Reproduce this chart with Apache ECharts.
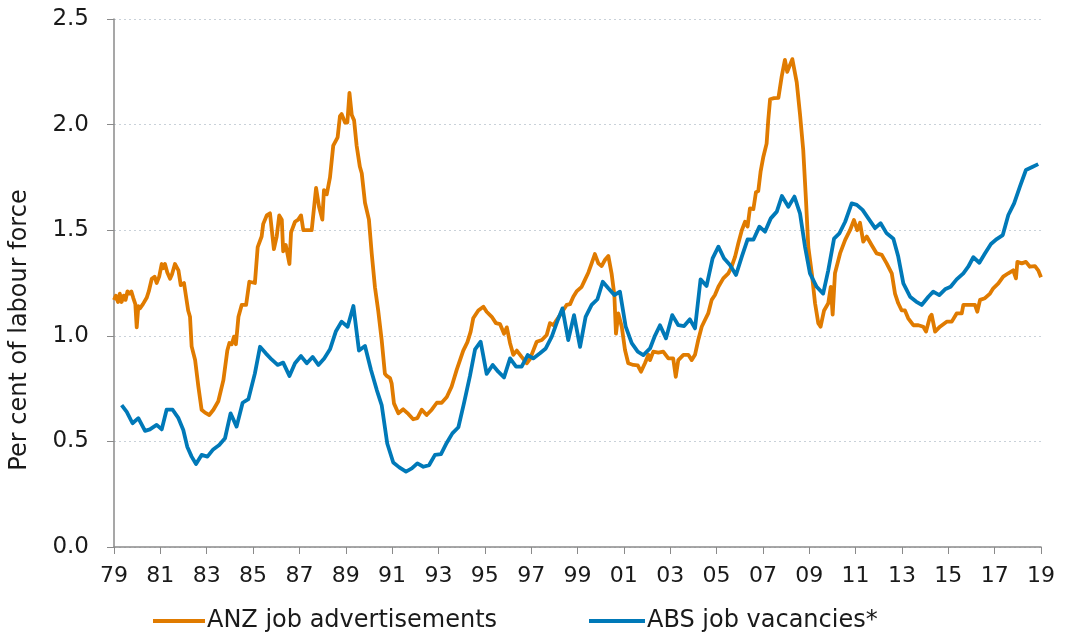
<!DOCTYPE html>
<html>
<head>
<meta charset="utf-8">
<script src="https://cdn.jsdelivr.net/npm/echarts@6/dist/echarts.min.js"></script>
<style>html,body{margin:0;padding:0;background:#fff}#c{width:1073px;height:637px}</style>
</head>
<body>
<div id="c"></div>
<script>
const yTicks = ['0.0','0.5','1.0','1.5','2.0','2.5'];
const xTickYears = [1979,1981,1983,1985,1987,1989,1991,1993,1995,1997,1999,2001,2003,2005,2007,2009,2011,2013,2015,2017,2019];
const yAxisTitle = 'Per cent of labour force';

const anzYears = [1979.0,1979.08,1979.17,1979.25,1979.33,1979.42,1979.5,1979.58,1979.67,1979.75,1979.83,1979.92,1979.98,1980.05,1980.12,1980.25,1980.41,1980.5,1980.63,1980.75,1980.84,1980.95,1981.06,1981.12,1981.2,1981.3,1981.42,1981.5,1981.63,1981.78,1981.88,1982.02,1982.2,1982.28,1982.35,1982.5,1982.64,1982.78,1982.93,1983.11,1983.29,1983.5,1983.72,1983.89,1983.98,1984.08,1984.18,1984.26,1984.37,1984.51,1984.7,1984.84,1985.08,1985.2,1985.37,1985.44,1985.59,1985.73,1985.9,1986.02,1986.13,1986.24,1986.3,1986.41,1986.57,1986.64,1986.81,1986.95,1987.07,1987.17,1987.53,1987.72,1987.85,1987.99,1988.06,1988.18,1988.32,1988.46,1988.65,1988.75,1988.82,1988.97,1989.07,1989.16,1989.26,1989.36,1989.47,1989.61,1989.69,1989.83,1990.0,1990.12,1990.26,1990.4,1990.55,1990.69,1990.77,1990.91,1990.98,1991.08,1991.27,1991.48,1991.7,1991.91,1992.09,1992.28,1992.49,1992.71,1992.93,1993.14,1993.36,1993.57,1993.79,1993.93,1994.07,1994.25,1994.39,1994.5,1994.72,1994.94,1995.08,1995.3,1995.48,1995.66,1995.83,1995.95,1996.09,1996.23,1996.38,1996.59,1996.81,1996.95,1997.09,1997.24,1997.46,1997.67,1997.81,1997.96,1998.1,1998.32,1998.53,1998.68,1998.82,1998.96,1999.18,1999.32,1999.47,1999.61,1999.75,1999.9,2000.04,2000.19,2000.33,2000.47,2000.59,2000.66,2000.76,2000.91,2001.05,2001.19,2001.41,2001.6,2001.74,2001.91,2002.06,2002.13,2002.27,2002.49,2002.7,2002.92,2003.13,2003.24,2003.35,2003.57,2003.78,2003.93,2004.07,2004.21,2004.36,2004.5,2004.64,2004.79,2004.93,2005.08,2005.29,2005.51,2005.65,2005.8,2005.94,2006.09,2006.23,2006.34,2006.44,2006.59,2006.7,2006.8,2006.9,2007.02,2007.16,2007.23,2007.31,2007.48,2007.67,2007.81,2007.95,2008.05,2008.1,2008.27,2008.46,2008.6,2008.74,2008.86,2008.96,2009.11,2009.25,2009.39,2009.49,2009.64,2009.82,2009.93,2010.01,2010.11,2010.33,2010.55,2010.76,2010.93,2011.07,2011.19,2011.33,2011.48,2011.69,2011.91,2012.13,2012.34,2012.56,2012.7,2012.84,2012.99,2013.13,2013.27,2013.49,2013.71,2013.92,2014.04,2014.21,2014.28,2014.43,2014.64,2014.93,2015.15,2015.36,2015.58,2015.65,2015.94,2016.15,2016.25,2016.37,2016.58,2016.8,2016.94,2017.16,2017.37,2017.59,2017.8,2017.92,2017.98,2018.17,2018.35,2018.52,2018.74,2018.88,2019.0];
const anzValues = [1.17,1.19,1.16,1.20,1.16,1.19,1.17,1.21,1.20,1.21,1.18,1.15,1.04,1.14,1.13,1.15,1.18,1.21,1.27,1.28,1.25,1.28,1.34,1.32,1.34,1.30,1.27,1.29,1.34,1.31,1.24,1.25,1.12,1.09,0.95,0.885,0.76,0.65,0.636,0.625,0.65,0.69,0.79,0.93,0.966,0.96,0.996,0.96,1.09,1.146,1.146,1.256,1.25,1.42,1.47,1.53,1.57,1.58,1.41,1.47,1.57,1.55,1.40,1.43,1.34,1.49,1.54,1.55,1.57,1.50,1.50,1.70,1.61,1.55,1.69,1.67,1.75,1.90,1.94,2.04,2.05,2.01,2.01,2.15,2.045,2.02,1.90,1.80,1.77,1.63,1.55,1.39,1.23,1.12,0.98,0.82,0.81,0.80,0.775,0.68,0.633,0.652,0.63,0.605,0.61,0.65,0.625,0.65,0.683,0.683,0.71,0.76,0.84,0.885,0.93,0.97,1.02,1.083,1.12,1.138,1.114,1.09,1.06,1.055,1.01,1.04,0.965,0.91,0.93,0.90,0.87,0.89,0.93,0.972,0.98,1.004,1.06,1.05,1.075,1.11,1.146,1.15,1.185,1.21,1.232,1.265,1.30,1.343,1.387,1.343,1.33,1.36,1.378,1.296,1.193,1.01,1.106,1.043,0.933,0.87,0.862,0.86,0.83,0.87,0.91,0.885,0.925,0.92,0.925,0.893,0.893,0.806,0.885,0.91,0.91,0.885,0.91,0.98,1.043,1.075,1.106,1.17,1.193,1.232,1.272,1.296,1.327,1.375,1.438,1.50,1.54,1.517,1.603,1.60,1.68,1.685,1.777,1.848,1.91,2.02,2.12,2.125,2.127,2.227,2.306,2.25,2.243,2.31,2.20,2.05,1.88,1.64,1.42,1.296,1.154,1.06,1.043,1.12,1.154,1.232,1.10,1.296,1.39,1.454,1.50,1.548,1.50,1.535,1.446,1.47,1.43,1.39,1.383,1.343,1.296,1.20,1.154,1.12,1.12,1.083,1.05,1.05,1.043,1.02,1.09,1.10,1.02,1.043,1.067,1.067,1.106,1.106,1.146,1.146,1.146,1.114,1.17,1.178,1.20,1.225,1.248,1.28,1.296,1.31,1.272,1.35,1.343,1.35,1.327,1.33,1.31,1.277];

const absYears = [1979.33,1979.55,1979.8,1980.05,1980.34,1980.55,1980.84,1981.06,1981.27,1981.53,1981.78,1981.99,1982.16,1982.35,1982.54,1982.78,1983.03,1983.28,1983.54,1983.79,1984.03,1984.29,1984.55,1984.8,1985.08,1985.3,1985.55,1985.8,1986.06,1986.3,1986.57,1986.81,1987.07,1987.32,1987.57,1987.82,1988.07,1988.32,1988.57,1988.82,1989.08,1989.33,1989.57,1989.83,1990.09,1990.34,1990.55,1990.79,1991.05,1991.31,1991.6,1991.85,1992.09,1992.35,1992.6,1992.85,1993.11,1993.36,1993.6,1993.86,1994.1,1994.36,1994.58,1994.82,1995.08,1995.34,1995.58,1995.83,1996.09,1996.35,1996.59,1996.85,1997.09,1997.38,1997.63,1997.89,1998.15,1998.35,1998.6,1998.85,1999.11,1999.35,1999.61,1999.86,2000.09,2000.33,2000.59,2000.83,2001.08,2001.34,2001.6,2001.84,2002.13,2002.34,2002.56,2002.82,2003.09,2003.35,2003.6,2003.85,2004.07,2004.31,2004.57,2004.83,2005.08,2005.32,2005.58,2005.84,2006.09,2006.34,2006.59,2006.85,2007.09,2007.34,2007.6,2007.82,2008.1,2008.36,2008.6,2008.82,2009.03,2009.32,2009.6,2009.82,2010.07,2010.3,2010.55,2010.83,2011.05,2011.3,2011.55,2011.84,2012.08,2012.34,2012.63,2012.84,2013.06,2013.35,2013.61,2013.85,2014.14,2014.35,2014.61,2014.86,2015.1,2015.36,2015.65,2015.86,2016.08,2016.34,2016.58,2016.84,2017.09,2017.35,2017.59,2017.84,2018.09,2018.35,2018.6,2018.88];
const absValues = [0.672,0.64,0.586,0.61,0.55,0.557,0.578,0.557,0.65,0.65,0.61,0.554,0.475,0.428,0.393,0.436,0.428,0.462,0.483,0.515,0.633,0.57,0.683,0.70,0.822,0.948,0.917,0.888,0.862,0.873,0.81,0.87,0.904,0.87,0.90,0.862,0.893,0.936,1.02,1.067,1.043,1.141,0.93,0.952,0.838,0.743,0.672,0.49,0.40,0.377,0.357,0.372,0.396,0.38,0.388,0.436,0.44,0.494,0.538,0.567,0.68,0.81,0.936,0.972,0.82,0.862,0.83,0.803,0.893,0.854,0.854,0.909,0.893,0.917,0.94,0.996,1.075,1.13,0.98,1.098,0.948,1.09,1.146,1.173,1.256,1.225,1.193,1.209,1.043,0.965,0.925,0.909,0.94,1.0,1.05,0.988,1.098,1.05,1.046,1.078,1.035,1.267,1.236,1.367,1.422,1.367,1.335,1.288,1.375,1.457,1.455,1.517,1.493,1.556,1.588,1.662,1.611,1.659,1.58,1.42,1.296,1.232,1.20,1.31,1.46,1.485,1.54,1.627,1.62,1.596,1.556,1.51,1.533,1.485,1.46,1.375,1.248,1.185,1.162,1.146,1.185,1.209,1.193,1.22,1.232,1.267,1.296,1.327,1.372,1.346,1.39,1.435,1.458,1.477,1.572,1.627,1.706,1.785,1.798,1.813];

const seriesNames = ['ANZ job advertisements','ABS job vacancies*'];
const colors = ['#E07B00','#0079B8'];

const anzData = anzYears.map((y,i)=>[y,anzValues[i]]);
const absData = absYears.map((y,i)=>[y,absValues[i]]);

const FONT = 'DejaVu Sans';
const txt = '#1a1a1a';
const chart = echarts.init(document.getElementById('c'), null, {renderer:'canvas'});
chart.setOption({
  animation:false,
  backgroundColor:'#fff',
  textStyle:{fontFamily:FONT},
  grid:{left:114,right:32,top:19,bottom:90,containLabel:false},
  graphic:[{
    type:'text',x:20,y:330,rotation:Math.PI/2,
    style:{text:yAxisTitle,fontFamily:FONT,fontSize:24,fill:txt,align:'center',verticalAlign:'middle'}
  }],
  legend:[
    {left:148,top:604,itemWidth:52,itemHeight:4,itemGap:0,icon:'rect',
     data:[seriesNames[0]],textStyle:{fontFamily:FONT,fontSize:24,color:txt,padding:[0,0,0,-3]}},
    {left:584,top:604,itemWidth:56,itemHeight:4,itemGap:0,icon:'rect',
     data:[seriesNames[1]],textStyle:{fontFamily:FONT,fontSize:24,color:txt,padding:[0,0,0,-3]}}
  ],
  xAxis:{
    type:'value',min:xTickYears[0],max:xTickYears[xTickYears.length-1],interval:2,
    axisLine:{show:true,onZero:false,lineStyle:{color:'#8a8a8a',width:1.5}},
    axisTick:{show:true,length:7,lineStyle:{color:'#8a8a8a',width:1}},
    splitLine:{show:false},
    axisLabel:{fontFamily:FONT,fontSize:22,color:txt,margin:18,
      formatter:v=>String(Math.round(v)%100).padStart(2,'0')}
  },
  yAxis:{
    type:'value',min:0,max:2.5,interval:0.5,
    axisLine:{show:true,lineStyle:{color:'#8a8a8a',width:1.5}},
    axisTick:{show:true,length:7,lineStyle:{color:'#8a8a8a',width:1}},
    splitLine:{show:true,lineStyle:{color:'#c9d1d9',type:[2,3],width:1}},
    axisLabel:{fontFamily:FONT,fontSize:23,color:txt,margin:25,
      formatter:v=>yTicks[Math.round(v/0.5)]}
  },
  series:[
    {name:seriesNames[0],type:'line',data:anzData,showSymbol:false,symbol:'none',
     lineStyle:{color:colors[0],width:3.8,join:'round'},itemStyle:{color:colors[0]},z:2},
    {name:seriesNames[1],type:'line',data:absData,showSymbol:false,symbol:'none',
     lineStyle:{color:colors[1],width:3.8,join:'round'},itemStyle:{color:colors[1]},z:3}
  ]
});
</script>
</body>
</html>
